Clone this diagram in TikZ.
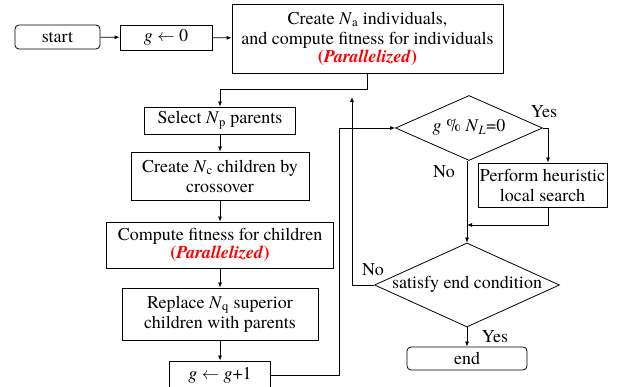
\documentclass[tikz,border=0pt]{standalone}
\usepackage{fontspec}
\setmainfont{texgyretermes}[Extension=.otf,UprightFont=*-regular,BoldFont=*-bold,ItalicFont=*-italic,BoldItalicFont=*-bolditalic]
\usetikzlibrary{shapes.geometric,arrows.meta}
\begin{document}
\begin{tikzpicture}[x=1pt,y=-1pt,
    font=\fontsize{18}{20}\selectfont,
    every node/.style={inner sep=0pt,align=center},
    box/.style={draw,line width=0.8pt},
    term/.style={box,rounded corners=4pt},
    cond/.style={box,shape=diamond,aspect=2.2,text height=11pt,text depth=3pt},
    >={Latex[length=5pt,width=4pt]}]
  \useasboundingbox (0,0) rectangle (624,387);
  \draw
    (57.5,37) node[term,minimum width=85pt,minimum height=24pt] (0){start}
    (166,37.5) node[box,minimum width=92pt,minimum height=25pt] (1){\textit{g} $\leftarrow$ 0}
    (367.5,38.5) node[box,minimum width=271pt,minimum height=69pt] (2){Create \textit{N}\textsubscript{a} individuals,\\ and compute fitness for individuals\\[-2pt] \textcolor{red}{\textbf{(\textit{Parallelized})}}}
    (220,120.5) node[box,minimum width=151pt,minimum height=27pt] (3){Select \textit{N}\textsubscript{p} parents}
    (220,176) node[box,minimum width=178pt,minimum height=48pt] (4){Create \textit{N}\textsubscript{c} children by\\ crossover}
    (220,245) node[box,minimum width=227pt,minimum height=46pt] (5){Compute fitness for children\\[-2pt] \textcolor{red}{\textbf{(\textit{Parallelized})}}}
    (220,314) node[box,minimum width=196pt,minimum height=52pt] (6){Replace \textit{N}\textsubscript{q} superior\\ children with parents}
    (220,375) node[box,minimum width=101pt,minimum height=28pt] (7){\textit{g} $\leftarrow$ \textit{g}+1}
    (469,128) node[cond,minimum width=147pt,minimum height=65pt] (8){\textit{g} \% \textit{N}\textsubscript{\textit{L}}=0}
    (542.5,185) node[box,minimum width=129pt,minimum height=44pt] (9){Perform heuristic\\ local search}
    (467,285) node[cond,minimum width=185pt,minimum height=84pt] (10){satisfy end condition}
    (467,358.5) node[term,minimum width=120pt,minimum height=23pt] (11){end};
  \draw
    (544,112) node (y1){Yes}
    (444,172) node (n1){No}
    (373,270) node (n2){No}
    (495,337) node (y2){Yes};
  \coordinate (a) at (367.5,89);
  \coordinate (b) at (339,128);
  \coordinate (c) at (548,128);
  \coordinate (d) at (548,225);
  \coordinate (e) at (352,97);
  \begin{scope}[->,line width=0.8pt]
    \draw (0) to (1);
    \draw (1) to (2);
    \draw (2.south) -- (a) -| (3.north);
    \draw (3) to (4);
    \draw (4) to (5);
    \draw (5) to (6);
    \draw (6) to (7);
    \draw (7.east) -| (b) -- (8.west);
    \draw (8.east) -- (c) -- (c |- 9.north);
    \draw (c |- 9.south) -- (d) -- (d -| 10.north);
    \draw (8.south -| 10.north) -- (10.north);
    \draw (10.west) -| (e);
    \draw (10) to (11);
  \end{scope}
\end{tikzpicture}
\end{document}
